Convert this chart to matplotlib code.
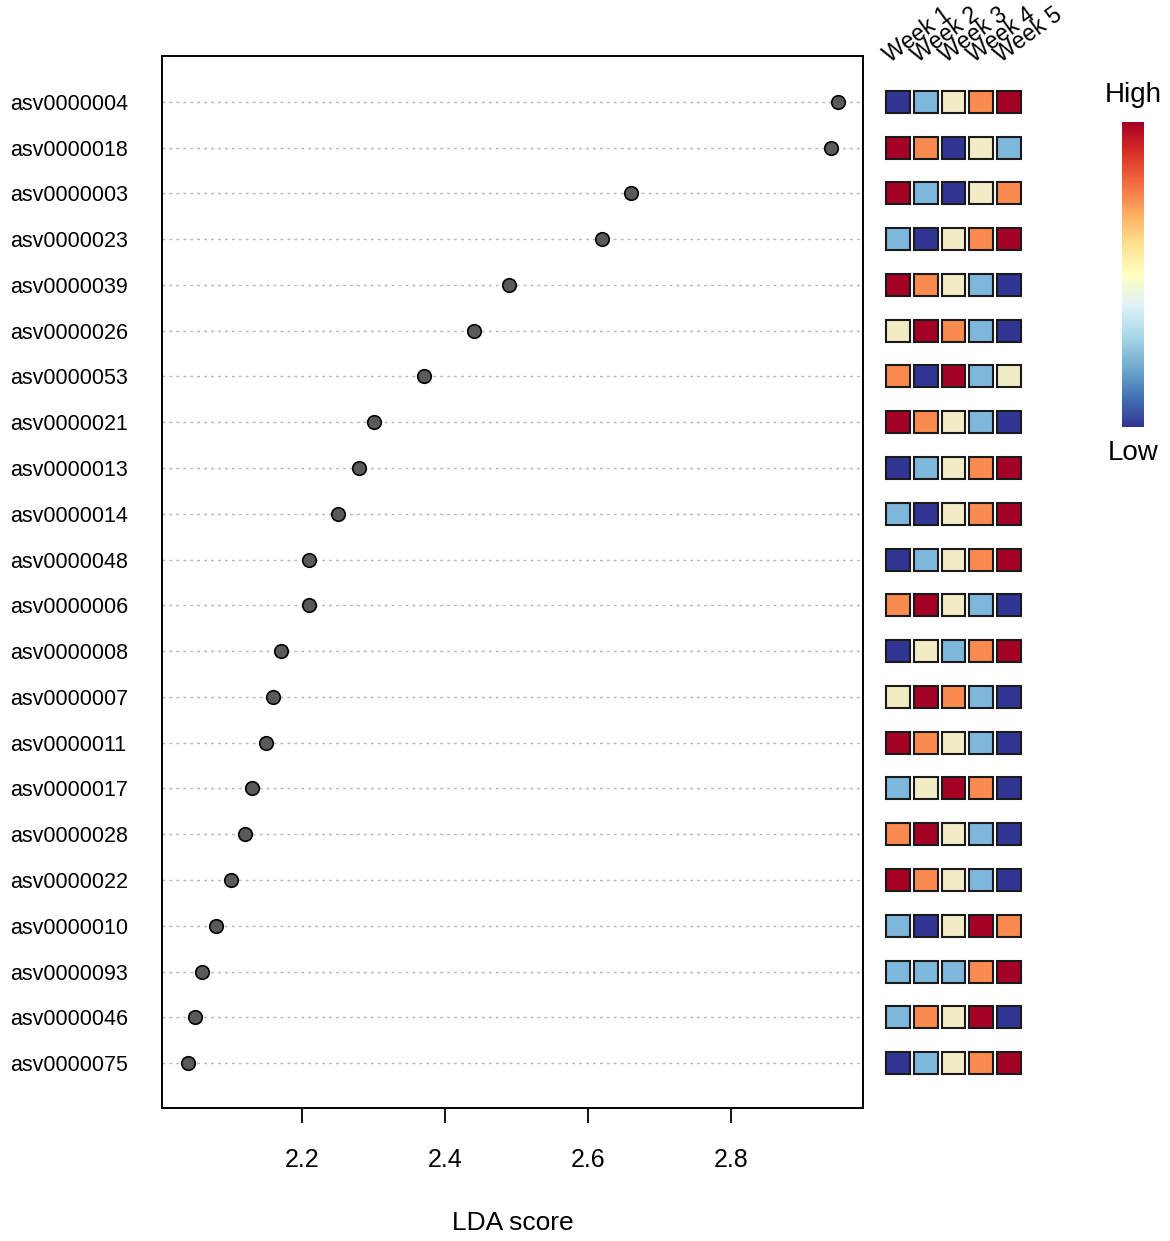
import numpy as np
import matplotlib.pyplot as plt
from matplotlib.patches import Rectangle

plt.rcParams['font.family'] = ['Liberation Sans', 'DejaVu Sans']

# ASV names, top to bottom
asvs = ['asv0000004', 'asv0000018', 'asv0000003', 'asv0000023', 'asv0000039',
        'asv0000026', 'asv0000053', 'asv0000021', 'asv0000013', 'asv0000014',
        'asv0000048', 'asv0000006', 'asv0000008', 'asv0000007', 'asv0000011',
        'asv0000017', 'asv0000028', 'asv0000022', 'asv0000010', 'asv0000093',
        'asv0000046', 'asv0000075']

lda = [2.95, 2.94, 2.66, 2.62, 2.49, 2.44, 2.37, 2.30, 2.28, 2.25, 2.21,
       2.21, 2.17, 2.16, 2.15, 2.13, 2.12, 2.10, 2.08, 2.06, 2.05, 2.04]

weeks = ['Week 1', 'Week 2', 'Week 3', 'Week 4', 'Week 5']

# relative abundance rank per week (1 = low, 5 = high)
ranks = [[1, 2, 3, 4, 5], [5, 4, 1, 3, 2], [5, 2, 1, 3, 4], [2, 1, 3, 4, 5],
         [5, 4, 3, 2, 1], [3, 5, 4, 2, 1], [4, 1, 5, 2, 3], [5, 4, 3, 2, 1],
         [1, 2, 3, 4, 5], [2, 1, 3, 4, 5], [1, 2, 3, 4, 5], [4, 5, 3, 2, 1],
         [1, 3, 2, 4, 5], [3, 5, 4, 2, 1], [5, 4, 3, 2, 1], [2, 3, 5, 4, 1],
         [4, 5, 3, 2, 1], [5, 4, 3, 2, 1], [2, 1, 3, 5, 4], [2, 2, 2, 4, 5],
         [2, 4, 3, 5, 1], [1, 2, 3, 4, 5]]

rank_colors = ['#313695', '#7fb6dc', '#f1ebc6', '#f98a50', '#a50026']

W, H = 1170, 1241
fig = plt.figure(figsize=(W / 100, H / 100), dpi=100)

def px_axes(x0, y0, x1, y1):
    return fig.add_axes([x0 / W, 1 - y1 / H, (x1 - x0) / W, (y1 - y0) / H])

n = len(asvs)
ypos = np.arange(n, 0, -1)

# main dot plot
ax = px_axes(162, 56, 863, 1108)
for y in ypos:
    ax.axhline(y, color='#b5b5b5', linestyle=(0, (2, 3)), linewidth=1, zorder=1)
ax.scatter(lda, ypos, s=95, color='#5a5a5a', edgecolor='black', linewidth=1.2, zorder=3)
ax.set_xlim(2.004, 2.985)
ax.set_ylim(0.02, 23.0)
ax.set_xticks([2.2, 2.4, 2.6, 2.8])
ax.set_xticklabels(['2.2', '2.4', '2.6', '2.8'], fontsize=18)
ax.tick_params(axis='x', length=11, width=1.3, pad=18)
ax.set_yticks(ypos)
ax.set_yticklabels(asvs, fontsize=15.5, ha='left')
ax.tick_params(axis='y', length=0, pad=109)
for sp in ax.spines.values():
    sp.set_linewidth(1.4)
ax.set_xlabel('LDA score', fontsize=19, labelpad=28)

# heatmap of week ranks
hx = px_axes(884, 56, 1023, 1108)
hx.set_xlim(0, 5)
hx.set_ylim(0.02, 23.0)
hx.axis('off')
for i, y in enumerate(ypos):
    for j in range(5):
        hx.add_patch(Rectangle((j + 0.07, y - 0.24), 0.86, 0.48,
                               facecolor=rank_colors[ranks[i][j] - 1],
                               edgecolor='#1a1a1a', linewidth=1.5))
for j, wk in enumerate(weeks):
    hx.text(j + 0.22, 22.85, wk, rotation=36, rotation_mode='anchor',
            ha='left', va='baseline', fontsize=16.5, clip_on=False)

# colour bar
cx = px_axes(1122, 122, 1144, 427)
grad = np.linspace(1, 0, 256).reshape(-1, 1)
cx.imshow(grad, aspect='auto', cmap='RdYlBu_r')
cx.axis('off')
fig.text(1133 / W, 1 - 95 / H, 'High', ha='center', va='center', fontsize=20)
fig.text(1133 / W, 1 - 453 / H, 'Low', ha='center', va='center', fontsize=20)

fig.savefig('out.png', dpi=100)
